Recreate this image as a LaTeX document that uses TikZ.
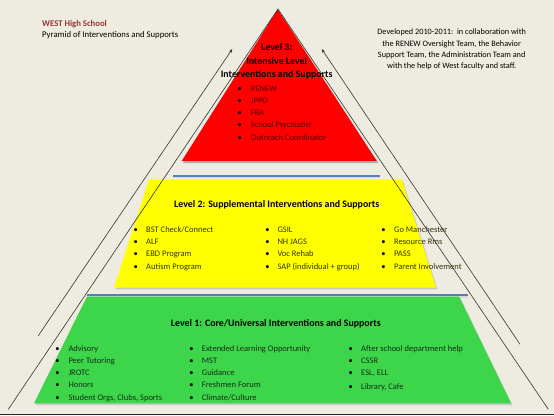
\documentclass[tikz,border=0pt]{standalone}
\usepackage{fontspec}
\setmainfont{Carlito}
\usetikzlibrary{arrows.meta}
\definecolor{bgc}{HTML}{EEEBE0}
\definecolor{westred}{HTML}{953735}
\definecolor{lvlblue}{HTML}{4F81BD}
\definecolor{lvlgreen}{HTML}{3DD64B}
\definecolor{lvlyellow}{HTML}{FFFF00}
\definecolor{lvlred}{HTML}{FF0000}
\definecolor{txtred}{HTML}{520000}
\definecolor{txtyel}{HTML}{33330F}
\definecolor{txtgrn}{HTML}{142F17}
\begin{document}
\begin{tikzpicture}[x=1pt,y=-1pt,
  bul/.style={anchor=base west,inner sep=0pt,font=\fontsize{8.5}{10}\selectfont},
  ttl/.style={anchor=base,inner sep=0pt,font=\fontsize{9.9}{11}\selectfont\bfseries},
  guide/.style={draw=black!80,line width=0.6pt},
  arr/.style={guide,-{Stealth[length=4pt,width=3pt]}},
  band/.style={draw=lvlblue,line width=1.8pt}]
\fill[bgc] (0,0) rectangle (554,415);
\useasboundingbox (0,0) rectangle (554,415);
% bottom border
\coordinate (bbl) at (0,414.2);
\coordinate (bbr) at (554,414.2);
\draw[black!85,line width=1.2pt] (bbl) -- (bbr);
% header texts
\node[anchor=base west,inner sep=0pt,text=westred,font=\fontsize{8.7}{10}\selectfont\bfseries] (school) at (42,26) {WEST High School};
\node[anchor=base west,inner sep=0pt,font=\fontsize{8.7}{10}\selectfont] (sub) at (42,37.5) {Pyramid of Interventions and Supports};
\node[align=center,inner sep=0pt,font=\fontsize{8.25}{11.3}\selectfont] (dev) at (451.7,49.5) {Developed 2010-2011:\ \ in collaboration with\\ the RENEW Oversight Team, the Behavior\\ Support Team, the Administration Team and\\ with the help of West faculty and staff.};
% level 3 triangle
\fill[black!30] (279,11) -- (183,163) -- (378.5,163) -- cycle;
\fill[lvlred] (277.7,9.3) -- (181.7,161) -- (376.7,161) -- cycle;
% blue separator lines
\coordinate (s2l) at (173,175.7); \coordinate (s2r) at (380,175.7);
\coordinate (s1l) at (87,295.3); \coordinate (s1r) at (468,295.3);
\draw[black!15,line width=1.5pt] ([yshift=-1.5pt]s2l) -- ([yshift=-1.5pt]s2r);
\draw[band] (s2l) -- (s2r);
% level 2 trapezoid
\fill[black!22] (150.5,181) -- (403,181) -- (437.5,289.3) -- (115.5,289.3) -- cycle;
\fill[lvlyellow] (149,179.3) -- (401.7,179.3) -- (436,287.5) -- (114,287.5) -- cycle;
\draw[black!15,line width=1.5pt] ([yshift=-1.5pt]s1l) -- ([yshift=-1.5pt]s1r);
\draw[band] (s1l) -- (s1r);
% level 1 trapezoid
\fill[black!22] (88.5,298.3) -- (460.5,298.3) -- (512.5,405) -- (35.5,405) -- cycle;
\fill[lvlgreen] (87,296.5) -- (459,296.5) -- (511,403.3) -- (34,403.3) -- cycle;
% level 3 texts
\node[ttl] (t3a) at (276.7,50.2) {Level 3:};
\node[ttl] (t3b) at (276.7,64.4) {Intensive Level};
\node[ttl] (t3c) at (276.7,77.8) {Interventions and Supports};
\foreach \n/\yy/\t in {r1/88.7/RENEW,r2/100.8/JPPO,r3/112.9/FBA,r4/125/School Psychiatist,r5/137.1/Outreach Coordinator}
  \node[bul,text=txtred] (\n) at (237.5,\yy+2.9) {\makebox[13.2pt][l]{\color{black}\textbullet}\t};
% level 2 texts
\node[ttl] (t2) at (276.7,207.4) {Level 2: Supplemental Interventions and Supports};
\foreach \n/\yy/\t in {a1/229.3/BST Check\slash Connect,a2/241.6/ALF,a3/253.9/EBD Program,a4/266.2/Autism Program}
  \node[bul,text=txtyel] (\n) at (133.5,\yy+2.9) {\makebox[12.5pt][l]{\color{black}\textbullet}\t};
\foreach \n/\yy/\t in {b1/229.3/GSIL,b2/241.6/NH JAGS,b3/253.9/Voc Rehab,b4/266.2/SAP (individual + group)}
  \node[bul,text=txtyel] (\n) at (265.2,\yy+2.9) {\makebox[12.1pt][l]{\color{black}\textbullet}\t};
\foreach \n/\yy/\t in {c1/229.3/Go Manchester,c2/241.6/Resource Rms,c3/253.9/PASS,c4/266.2/Parent Involvement}
  \node[bul,text=txtyel] (\n) at (381.2,\yy+2.9) {\makebox[12.8pt][l]{\color{black}\textbullet}\t};
% level 1 texts
\node[ttl] (t1) at (275.8,326.7) {Level 1: Core\slash Universal Interventions and Supports};
\foreach \n/\yy/\t in {d1/348.3/Advisory,d2/360.4/Peer Tutoring,d3/372.5/JROTC,d4/384.8/Honors,d5/397.2/{Student Orgs, Clubs, Sports}}
  \node[bul,text=txtgrn] (\n) at (55.2,\yy+2.9) {\makebox[13.1pt][l]{\color{black}\textbullet}\t};
\foreach \n/\yy/\t in {e1/348.3/Extended Learning Opportunity,e2/360.4/MST,e3/372.5/Guidance,e4/384.8/Freshmen Forum,e5/397.2/Climate\slash Culture}
  \node[bul,text=txtgrn] (\n) at (189.2,\yy+2.9) {\makebox[12.5pt][l]{\color{black}\textbullet}\t};
\foreach \n/\yy/\t in {f1/348.3/After school department help,f2/360.4/CSSR,f3/372.5/{ESL, ELL},f4/386.5/{Library, Cafe}}
  \node[bul,text=txtgrn] (\n) at (348.5,\yy+2.9) {\makebox[12.5pt][l]{\color{black}\textbullet}\t};
% outline lines of the big pyramid and arrows
\coordinate (apex) at (278,9);
\coordinate (pl) at (8.3,409.3);
\coordinate (pr) at (548.3,409.3);
\draw[guide] (pl) -- (apex) -- (pr);
\coordinate (al0) at (38.3,335.7); \coordinate (al1) at (232.3,49);
\coordinate (ar0) at (520,344.3); \coordinate (ar1) at (321.7,49);
\draw[arr] (al0) -- (al1);
\draw[arr] (ar0) -- (ar1);
\end{tikzpicture}
\end{document}
